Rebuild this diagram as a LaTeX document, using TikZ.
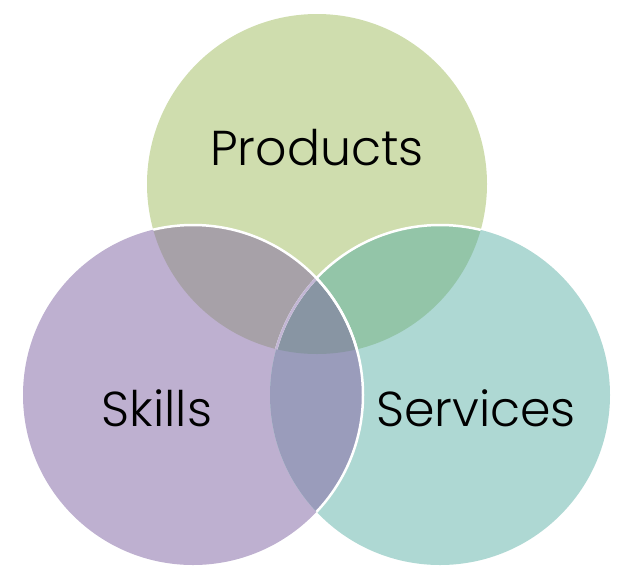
\documentclass[tikz,border=0pt]{standalone}
\usepackage{fontspec}
\setmainfont{Poppins Light}
\definecolor{cP}{HTML}{CFDDAE}
\definecolor{cS}{HTML}{BEB0D0}
\definecolor{cV}{HTML}{AED8D3}
\definecolor{cPS}{HTML}{A7A1A8}
\definecolor{cPV}{HTML}{93C5A8}
\definecolor{cSV}{HTML}{9A9CBB}
\definecolor{cPSV}{HTML}{8895A3}
\definecolor{cLine}{HTML}{C2B6D4}
\tikzset{
  rim/.style={line width=2.5pt},
  label/.style={font=\fontsize{49}{56}\selectfont, text=black, inner sep=0pt}
}
\begin{document}
\begin{tikzpicture}[x=1pt,y=-1pt]
\useasboundingbox (0,0) rectangle (634,576);
\coordinate (P) at (317,184);
\coordinate (S) at (193,395);
\coordinate (V) at (440,395);
\def\rr{170}
% base fills
\fill[cP] (P) circle (\rr);
\fill[cS] (S) circle (\rr);
\fill[cV] (V) circle (\rr);
% pairwise overlaps
\begin{scope}
  \clip (P) circle (\rr);
  \fill[cPS] (S) circle (\rr);
  \fill[cPV] (V) circle (\rr);
\end{scope}
\begin{scope}
  \clip (S) circle (\rr);
  \fill[cSV] (V) circle (\rr);
  \clip (P) circle (\rr);
  \fill[cPSV] (V) circle (\rr);
\end{scope}
% rims
\begin{scope}
  \clip (P) circle (\rr);
  \draw[rim, white] (V) circle (\rr);
\end{scope}
\begin{scope}
  \clip (P) circle (\rr);
  \clip (S) circle (\rr);
  \draw[rim, cLine] (V) circle (\rr);
\end{scope}
\begin{scope}
  \clip (P) circle (\rr);
  \draw[rim, white] (S) circle (\rr);
\end{scope}
\begin{scope}
  \clip (V) circle (\rr);
  \draw[rim, white] (S) circle (\rr);
\end{scope}
% labels
\node[label] (tP) at (317,148) {Products};
\node[label] (tS) at (157,408) {Skills};
\node[label] (tV) at (476,408) {Services};
\end{tikzpicture}
\end{document}
